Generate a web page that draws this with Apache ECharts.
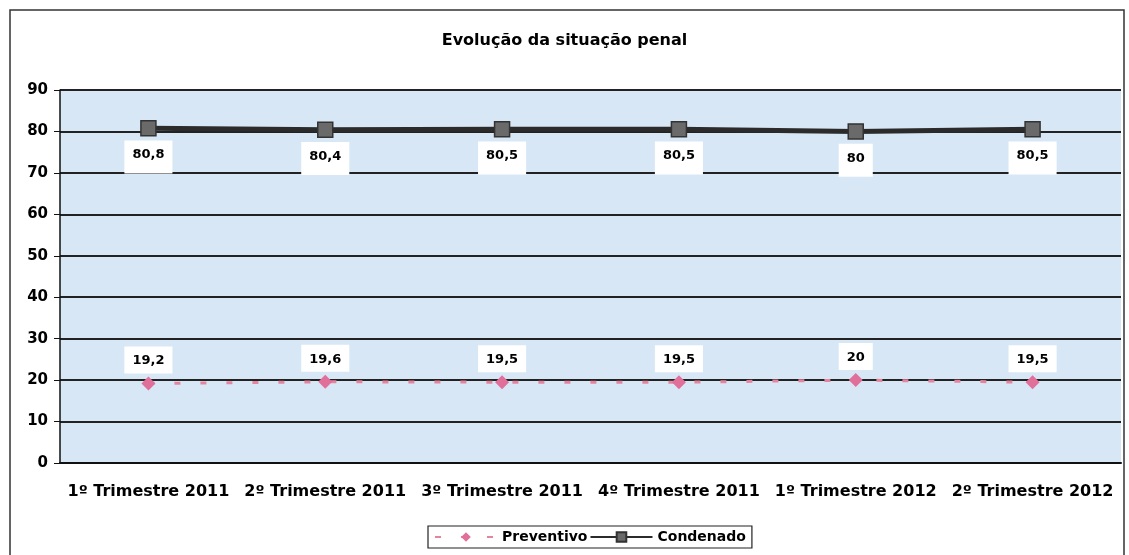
<!DOCTYPE html>
<html>
<head>
<meta charset="utf-8">
<script src="https://cdn.jsdelivr.net/npm/echarts@6/dist/echarts.min.js"></script>
<style>
  html, body { margin: 0; padding: 0; background: #fff; }
  #chart { width: 1129px; height: 555px; }
</style>
</head>
<body>
<div id="chart"></div>
<script>
const categories = ['1º Trimestre 2011', '2º Trimestre 2011', '3º Trimestre 2011', '4º Trimestre 2011', '1º Trimestre 2012', '2º Trimestre 2012']
const preventivo = [19.2, 19.6, 19.5, 19.5, 20, 19.5]
const condenado = [80.8, 80.4, 80.5, 80.5, 80, 80.5]
const yTicks = { min: 0, max: 90, interval: 10 }

const font = '"DejaVu Sans", Arial, sans-serif'
const fmt = p => String(p.value).replace('.', ',')

const chart = echarts.init(document.getElementById('chart'))
chart.setOption({
  animation: false,
  textStyle: { fontFamily: font },
  title: {
    text: 'Evolução da situação penal',
    left: 'center',
    top: 28,
    textStyle: { fontSize: 16, fontWeight: 'bold', color: '#000', fontFamily: font },
  },
  graphic: [{
    type: 'rect',
    shape: { x: 10, y: 10, width: 1114, height: 560 },
    style: { fill: 'none', stroke: '#333', lineWidth: 1.5 },
    silent: true,
  }],
  legend: {
    top: 526,
    left: 428,
    itemGap: 2,
    itemWidth: 62,
    itemHeight: 12,
    padding: [4, 6],
    borderColor: '#222',
    borderWidth: 1.2,
    textStyle: { fontSize: 14, fontWeight: 'bold', color: '#000', fontFamily: font },
    data: ['Preventivo', 'Condenado'],
  },
  grid: {
    left: 60,
    right: 8,
    top: 90,
    bottom: 92,
    show: true,
    backgroundColor: '#d8e7f5',
    borderWidth: 0,
  },
  xAxis: {
    type: 'category',
    data: categories,
    axisLine: { lineStyle: { color: '#111', width: 2 } },
    axisTick: { length: 5, lineStyle: { color: '#111' } },
    axisLabel: {
      interval: 0,
      hideOverlap: false,
      fontSize: 16,
      fontWeight: 'bold',
      color: '#000',
      margin: 21,
      fontFamily: font,
    },
  },
  yAxis: {
    type: 'value',
    min: yTicks.min,
    max: yTicks.max,
    interval: yTicks.interval,
    axisLine: { show: true, lineStyle: { color: '#111', width: 1.5 } },
    axisTick: { show: true, length: 6, lineStyle: { color: '#111' } },
    axisLabel: { fontSize: 15, fontWeight: 'bold', color: '#000', margin: 12, fontFamily: font },
    splitLine: { lineStyle: { color: '#222', width: 1.8 } },
  },
  series: [
    {
      name: 'Preventivo',
      type: 'line',
      data: preventivo,
      symbol: 'diamond',
      symbolSize: 14,
      itemStyle: { color: '#e0709a' },
      lineStyle: { color: '#e5849f', width: 3, type: [6, 20] },
      label: {
        show: true,
        position: 'top',
        distance: 3,
        formatter: fmt,
        fontSize: 13,
        fontWeight: 'bold',
        color: '#000',
        backgroundColor: '#fff',
        padding: [8, 8, 6, 8],
        fontFamily: font,
      },
      z: 3,
    },
    {
      name: 'Condenado',
      type: 'line',
      data: condenado,
      symbol: 'rect',
      symbolSize: 15,
      itemStyle: { color: '#6a6a6a', borderColor: '#333', borderWidth: 1.5 },
      lineStyle: { color: '#2b2b2b', width: 5 },
      label: {
        show: true,
        position: 'bottom',
        distance: 4,
        formatter: fmt,
        fontSize: 13,
        fontWeight: 'bold',
        color: '#000',
        backgroundColor: '#fff',
        padding: [8, 8, 12, 8],
        fontFamily: font,
      },
      z: 3,
    },
  ],
})
</script>
</body>
</html>
